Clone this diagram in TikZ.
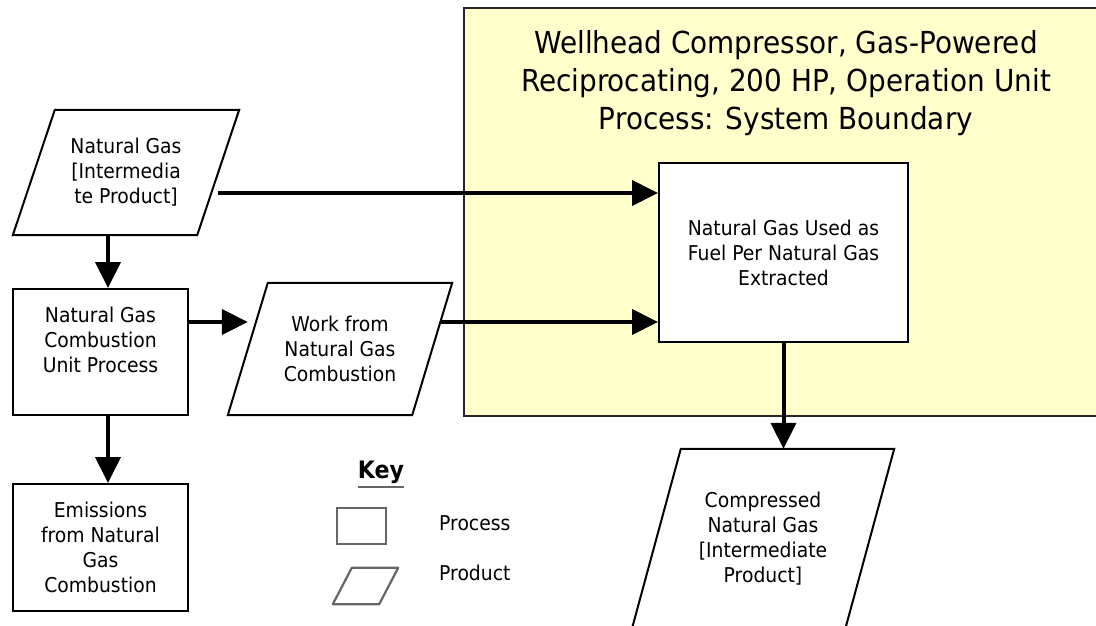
\documentclass[tikz,border=0pt]{standalone}
\usepackage{fontspec}
\setmainfont{DejaVu Sans}[FakeStretch=0.92]
\usetikzlibrary{arrows.meta,calc}
\definecolor{bndyellow}{HTML}{FFFFCC}
\begin{document}
\begin{tikzpicture}[x=1pt,y=-1pt,
  txt/.style={align=center, inner sep=0pt, font=\fontsize{20.4}{25}\selectfont},
  procbox/.style={txt, draw=black, line width=2pt, fill=white},
  prodnode/.style={txt, draw=none},
  prodline/.style={draw=black, line width=2pt, line join=miter},
  arr/.style={line width=4pt, -{Triangle[length=26pt,width=25pt]}},
  keyline/.style={draw=black!60, line width=2.2pt}
]
\useasboundingbox (0,0) rectangle (1096,625);

% system boundary
\node[draw=black!85, line width=1.8pt, fill=bndyellow, minimum width=650pt, minimum height=408pt,
      anchor=north west, inner sep=0pt] (boundary) at (463,7) {};
\node[align=center, inner sep=0pt, font=\fontsize{30.3}{38}\selectfont] (title) at (786,83)
  {Wellhead Compressor, Gas-Powered\\Reciprocating, 200 HP, Operation Unit\\Process: System Boundary};

% process boxes
\node[procbox, minimum width=249pt, minimum height=179pt] (proc) at (783.5,252.5)
  {Natural Gas Used as\\Fuel Per Natural Gas\\Extracted};
\node[procbox, minimum width=175pt, minimum height=126pt] (comb) at (100.5,352)
  {Natural Gas\\Combustion\\Unit Process\\ \mbox{}};
\node[procbox, minimum width=175pt, minimum height=127pt] (emis) at (100.5,547.5)
  {Emissions\\from Natural\\Gas\\Combustion};

% products (parallelograms drawn around named nodes)
\node[prodnode, minimum width=184pt, minimum height=125pt] (ng) at (126,172.5)
  {Natural Gas\\{[}Intermedia\\te Product]};
\draw[prodline] ([xshift=21pt]ng.north west) -- ([xshift=21pt]ng.north east)
  -- ([xshift=-21pt]ng.south east) -- ([xshift=-21pt]ng.south west) -- cycle;

\node[prodnode, minimum width=184pt, minimum height=132pt] (work) at (340,349)
  {Work from\\Natural Gas\\Combustion};
\draw[prodline] ([xshift=20pt]work.north west) -- ([xshift=20pt]work.north east)
  -- ([xshift=-20pt]work.south east) -- ([xshift=-20pt]work.south west) -- cycle;

\node[prodnode, minimum width=213pt, minimum height=180pt] (comp) at (763,539)
  {Compressed\\Natural Gas\\{[}Intermediate\\Product]};
\draw[prodline] ([xshift=24.5pt]comp.north west) -- ([xshift=24.5pt]comp.north east)
  -- ([xshift=-24.5pt]comp.south east) -- ([xshift=-24.5pt]comp.south west) -- cycle;

% connector end points on the slanted edges
\coordinate (ngout) at ([yshift=-20.5pt]ng.east);
\coordinate (workout) at ([xshift=8pt,yshift=27pt]work.east);
\coordinate (combout) at ([yshift=30pt]comb.east);
\coordinate (ngdown) at ([xshift=-18pt]ng.south);

% connectors
\draw[arr] (ngout) -- (ngout -| proc.west);
\draw[arr] (workout) -- (workout -| proc.west);
\draw[arr] (combout) -- (combout -| work.west);
\draw[arr] (ngdown) -- (ngdown |- comb.north);
\draw[arr] ([xshift=7.5pt]comb.south) -- ([xshift=7.5pt]emis.north);
\draw[arr] (proc.south) -- (proc.south |- comp.north);

% key
\node[inner sep=0pt, font=\fontsize{24}{26}\selectfont\bfseries] (key) at (381,472) {Key};
\draw[keyline, line width=2pt] ([yshift=-3pt]key.south west) -- ([yshift=-3pt]key.south east);
\node[keyline, minimum width=49pt, minimum height=36pt, inner sep=0pt] (keyproc) at (361.5,526) {};
\node[txt, anchor=west] (keyproctxt) at (439,523) {Process};
\node[minimum width=46pt, minimum height=36pt, inner sep=0pt] (keyprod) at (365.5,586) {};
\draw[keyline, line join=round] ([xshift=9.5pt]keyprod.north west) -- ([xshift=9.5pt]keyprod.north east)
  -- ([xshift=-9.5pt]keyprod.south east) -- ([xshift=-9.5pt]keyprod.south west) -- cycle;
\node[txt, anchor=west] (keyprodtxt) at (439,573) {Product};
\end{tikzpicture}
\end{document}
